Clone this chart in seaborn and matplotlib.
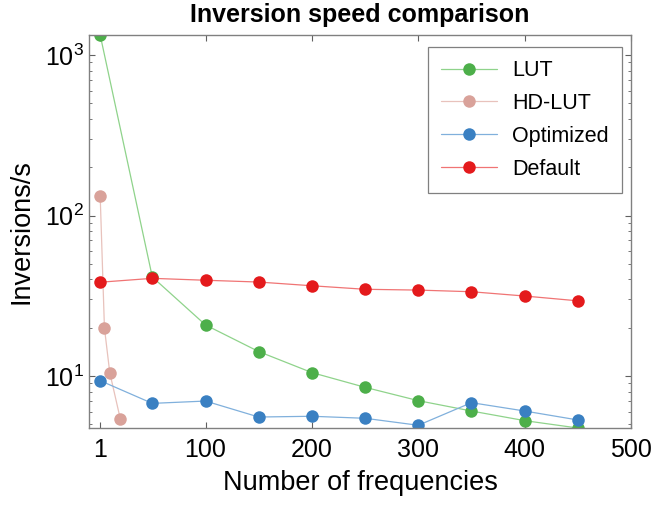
import matplotlib
matplotlib.use("Agg")
import matplotlib.pyplot as plt
import matplotlib.ticker as mticker
import pandas as pd
import seaborn as sns

# values
freqs = [1, 50, 100, 150, 200, 250, 300, 350, 400, 450]
lut = [1333, 41.4, 20.8, 14.2, 10.5, 8.5, 7.02, 6.05, 5.27, 4.74]
hd_freqs = [1, 5, 10, 20]
hd_lut = [133, 19.9, 10.5, 5.37]
optimized = [9.35, 6.75, 6.98, 5.55, 5.61, 5.45, 4.93, 6.82, 6.05, 5.32]
default = [38.4, 40.6, 39.5, 38.5, 36.5, 34.7, 34.3, 33.5, 31.5, 29.4]

x_ticks = [1, 100, 200, 300, 400, 500]

series = [
    ("LUT", freqs, lut, "#4daf4a", "#8fd38b"),
    ("HD-LUT", hd_freqs, hd_lut, "#d9a29a", "#e8c2bc"),
    ("Optimized", freqs, optimized, "#3a80c2", "#80b0dc"),
    ("Default", freqs, default, "#e41a1c", "#f07474"),
]


def plot_series(ax, name, x, y, color, line_color):
    df = pd.DataFrame({"x": x, "y": y})
    sns.lineplot(data=df, x="x", y="y", ax=ax, color=color, marker="o",
                 markersize=9, markeredgewidth=0, linewidth=0.9,
                 label=name, legend=False)
    line = ax.lines[-1]
    line.set_color(line_color)
    line.set_markerfacecolor(color)
    line.set_markeredgecolor(color)


if __name__ == '__main__':
    sns.set_style("white")
    plt.rcParams['font.family'] = ['Liberation Sans', 'DejaVu Sans']
    plt.rcParams['mathtext.fontset'] = 'custom'
    plt.rcParams['mathtext.rm'] = 'Liberation Sans'
    plt.rcParams['text.color'] = 'black'
    plt.rcParams['axes.labelcolor'] = 'black'

    fig = plt.figure(figsize=(6.55, 5.09), dpi=100)
    ax = fig.add_axes([0.1359, 0.1591, 0.9634 - 0.1359, 0.9312 - 0.1591])

    for name, x, y, color, line_color in series:
        plot_series(ax, name, x, y, color, line_color)

    ax.set_yscale("log")
    ax.set_xlim(-9.5, 500)
    ax.set_ylim(4.74, 1333)
    ax.set_xticks(x_ticks)
    ax.set_xticklabels([str(t) for t in x_ticks])
    ax.yaxis.set_major_locator(mticker.LogLocator(base=10))
    ax.yaxis.set_minor_locator(mticker.LogLocator(base=10, subs=range(2, 10)))
    ax.yaxis.set_minor_formatter(mticker.NullFormatter())

    for side in ax.spines.values():
        side.set_color("#808080")
        side.set_linewidth(1.0)
    ax.tick_params(which="both", direction="in", top=True, right=True,
                   left=True, bottom=True,
                   color="#606060", labelsize=18, labelcolor="black")
    ax.tick_params(which="major", length=4, width=0.8)
    ax.tick_params(which="minor", length=2.5, width=0.6)
    ax.tick_params(axis="x", pad=7)

    ax.set_xlabel("Number of frequencies", fontsize=19.5, labelpad=6,
                  color="black")
    ax.set_ylabel("Inversions/s", fontsize=19.5, labelpad=8, color="black")
    ax.set_title("Inversion speed comparison", fontsize=18,
                 fontweight="bold", pad=9.5, color="black")

    leg = ax.legend(loc="upper right", fontsize=15.5, frameon=True,
                    fancybox=False, handlelength=2.6, borderpad=0.6,
                    labelspacing=0.55, handletextpad=0.7, borderaxespad=0,
                    bbox_to_anchor=(0.983, 0.969))
    leg.get_frame().set_edgecolor("#606060")
    leg.get_frame().set_linewidth(0.9)
    for text in leg.get_texts():
        text.set_color("black")

    plt.savefig("out.png", dpi=100)
